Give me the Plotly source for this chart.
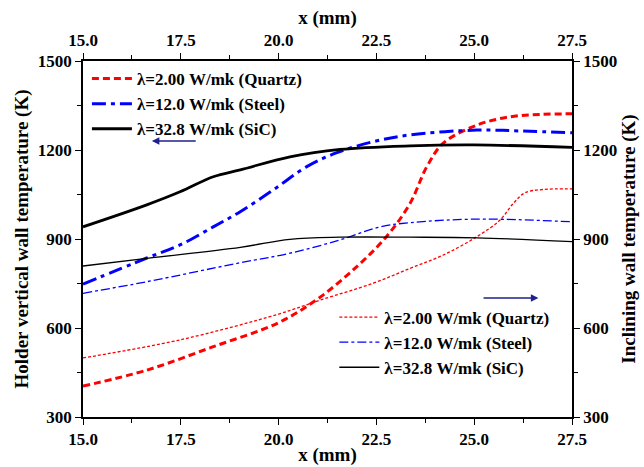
import plotly.graph_objects as go

# ---- data ----
# Holder vertical wall temperature (left axis)
x_quartz_h = [15.0, 16.63, 18.33, 20.0, 21.02, 22.0, 22.77, 23.36, 23.79, 24.21, 25.07, 25.92, 26.7, 27.5]
t_quartz_h = [404, 458, 537, 618, 700, 807, 910, 1020, 1144, 1223, 1284, 1312, 1320, 1322]

x_steel_h = [15.0, 16.63, 17.48, 18.33, 19.02, 19.86, 20.72, 21.49, 22.42, 23.36, 25.07, 26.2, 27.5]
t_steel_h = [748, 836, 880, 941, 992, 1065, 1144, 1191, 1228, 1251, 1267, 1264, 1258]

x_sic_h = [15.0, 16.63, 17.48, 18.33, 19.02, 20.29, 21.57, 23.36, 25.0, 27.5]
t_sic_h = [941, 1015, 1059, 1110, 1133, 1177, 1202, 1214, 1217, 1209]

# Inclining wall temperature (right axis)
x_quartz_i = [15.0, 17.48, 20.0, 21.06, 22.42, 23.36, 24.21, 25.07, 25.66, 26.0, 26.3, 26.77, 27.5]
t_quartz_i = [499, 560, 647, 694, 751, 801, 846, 908, 964, 1020, 1056, 1067, 1069]

x_steel_i = [15.0, 16.63, 19.02, 20.29, 21.57, 22.6, 23.36, 25.07, 27.5]
t_steel_i = [717, 756, 820, 852, 897, 941, 955, 967, 958]

x_sic_i = [15.0, 16.63, 19.02, 20.29, 21.57, 23.36, 25.07, 27.5]
t_sic_i = [809, 835, 872, 899, 906, 906, 904, 891]

names = ["λ=2.00 W/mk (Quartz)", "λ=12.0 W/mk (Steel)", "λ=32.8 W/mk (SiC)"]

x_ticks = [15.0, 17.5, 20.0, 22.5, 25.0, 27.5]
y_ticks = [300, 600, 900, 1200, 1500]

FONT = "Liberation Serif, Times New Roman, serif"
RED, BLUE, BLACK = "#ff0000", "#0000ff", "#000000"

fig = go.Figure()

# thick (left axis)
fig.add_trace(go.Scatter(x=x_quartz_h, y=t_quartz_h, name=names[0], mode="lines", line_shape="spline",
                         line=dict(color=RED, width=3, dash="7px,4px"), legend="legend"))
fig.add_trace(go.Scatter(x=x_steel_h, y=t_steel_h, name=names[1], mode="lines", line_shape="spline",
                         line=dict(color=BLUE, width=3, dash="14px,5px,4px,5px"), legend="legend"))
fig.add_trace(go.Scatter(x=x_sic_h, y=t_sic_h, name=names[2], mode="lines", line_shape="spline",
                         line=dict(color=BLACK, width=2.8), legend="legend"))
# thin (right axis)
fig.add_trace(go.Scatter(x=x_quartz_i, y=t_quartz_i, name=names[0], mode="lines", line_shape="spline",
                         line=dict(color=RED, width=1.3, dash="3px,2px"), yaxis="y2", legend="legend2"))
fig.add_trace(go.Scatter(x=x_steel_i, y=t_steel_i, name=names[1], mode="lines", line_shape="spline",
                         line=dict(color=BLUE, width=1.3, dash="9px,3px,3px,3px"), yaxis="y2", legend="legend2"))
fig.add_trace(go.Scatter(x=x_sic_i, y=t_sic_i, name=names[2], mode="lines", line_shape="spline",
                         line=dict(color=BLACK, width=1.3), yaxis="y2", legend="legend2"))
# invisible trace to carry top axis
fig.add_trace(go.Scatter(x=[x_ticks[0], x_ticks[-1]], y=[y_ticks[0], y_ticks[0]], xaxis="x2", mode="lines",
                         line=dict(width=0), showlegend=False, hoverinfo="skip"))

tickfont = dict(family=FONT, size=17, color="black", weight="bold")
titlefont = dict(family=FONT, size=19, color="black", weight="bold")
legfont = dict(family=FONT, size=17, color="black", weight="bold")

common_x = dict(range=[15, 27.5], tickvals=x_ticks, ticktext=[f"{v:.1f}" for v in x_ticks],
                showline=True, linecolor="black", linewidth=1.5, ticks="outside", ticklen=6,
                tickwidth=1.3, tickcolor="black", showgrid=False, zeroline=False, tickfont=tickfont,
                automargin=False,
                minor=dict(tickvals=[16.25, 18.75, 21.25, 23.75, 26.25], ticks="outside", ticklen=4,
                           tickwidth=1.3, tickcolor="black"))
common_y = dict(range=[300, 1500], tickvals=y_ticks, showline=True, linecolor="black", linewidth=1.5,
                ticks="outside", ticklen=6, tickwidth=1.3, tickcolor="black", showgrid=False,
                zeroline=False, tickfont=tickfont, automargin=False,
                minor=dict(tickvals=[450, 750, 1050, 1350], ticks="outside", ticklen=4,
                           tickwidth=1.3, tickcolor="black"))

fig.update_layout(
    width=644, height=467,
    margin=dict(l=83, r=72, t=61, b=50, autoexpand=False),
    paper_bgcolor="white", plot_bgcolor="white",
    xaxis=dict(**common_x, title=dict(text="x (mm)", font=titlefont, standoff=0)),
    xaxis2=dict(**common_x, overlaying="x", side="top", matches="x",
                title=dict(text="x (mm)", font=titlefont, standoff=2)),
    yaxis=dict(**common_y, title=dict(text="Holder vertical wall temperature (K)", font=titlefont, standoff=4)),
    yaxis2=dict(**common_y, overlaying="y", side="right", matches="y",
                title=dict(text="Inclining wall temperature (K)", font=titlefont, standoff=6)),
    legend=dict(x=0.008, y=1.0, xanchor="left", yanchor="top", bgcolor="rgba(0,0,0,0)",
                font=legfont, itemwidth=40, tracegroupgap=0),
    legend2=dict(x=0.514, y=0.33, xanchor="left", yanchor="top", bgcolor="rgba(0,0,0,0)",
                 font=legfont, itemwidth=40, tracegroupgap=0),
    showlegend=True,
)

# direction arrows
ARROW = "#1f1f8f"
fig.add_annotation(x=16.76, y=1230, ax=17.92, ay=1230, xref="x", yref="y", axref="x", ayref="y",
                   showarrow=True, arrowhead=2, arrowsize=1, arrowwidth=1.5, arrowcolor=ARROW, text="")
fig.add_annotation(x=26.64, y=701, ax=25.2, ay=701, xref="x", yref="y", axref="x", ayref="y",
                   showarrow=True, arrowhead=2, arrowsize=1, arrowwidth=1.5, arrowcolor=ARROW, text="")

fig.write_html("out.html")
